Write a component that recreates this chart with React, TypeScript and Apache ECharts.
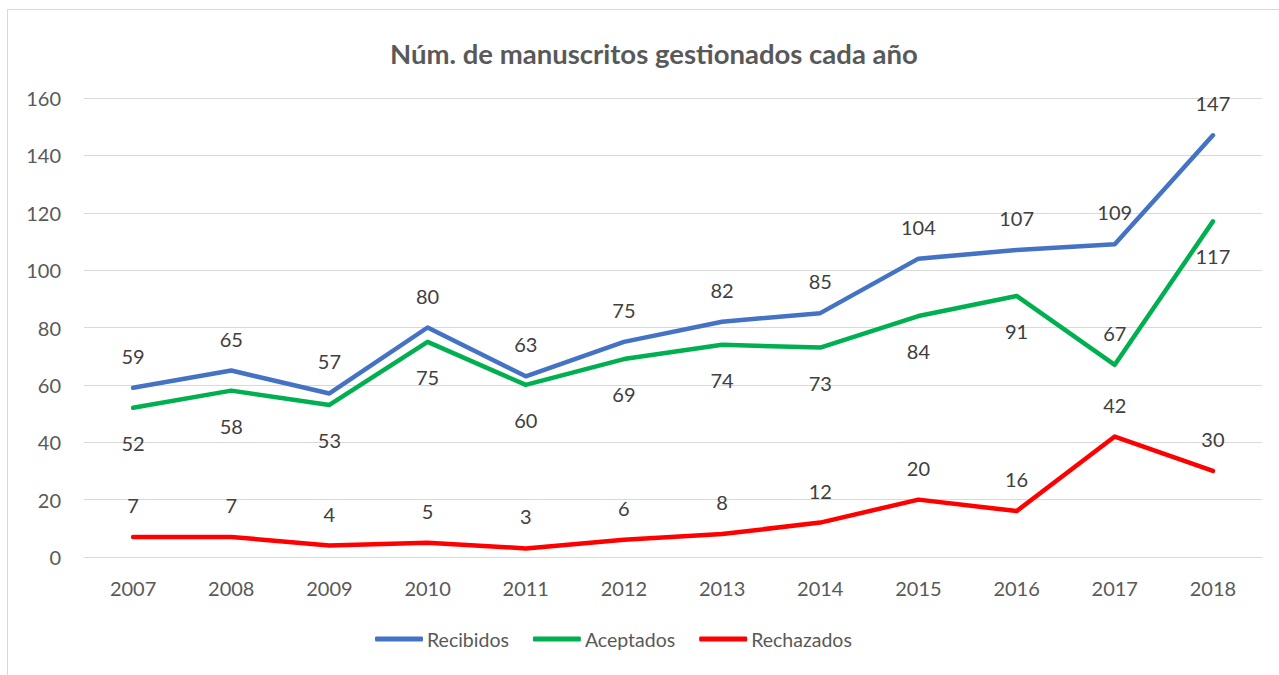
import React, { useEffect, useRef } from "react";
import * as echarts from "echarts";

const years = ["2007", "2008", "2009", "2010", "2011", "2012", "2013", "2014", "2015", "2016", "2017", "2018"];
const recibidos = [59, 65, 57, 80, 63, 75, 82, 85, 104, 107, 109, 147];
const aceptados = [52, 58, 53, 75, 60, 69, 74, 73, 84, 91, 67, 117];
const rechazados = [7, 7, 4, 5, 3, 6, 8, 12, 20, 16, 42, 30];
// vertical offset of each label from its point (negative: above)
const aceptadosLabelDy = [35, 35, 35, 35, 35, 35, 35, 35, 35, 35, -32, 35];
const titleText = "Núm. de manuscritos gestionados cada año";

const FONT = "Lato, 'Noto Sans', sans-serif";

export default function App() {
  const ref = useRef<HTMLDivElement>(null);
  useEffect(() => {
    if (!ref.current) return;
    const chart = echarts.init(ref.current, undefined, { renderer: "svg" });
    const mk = (name: string, data: number[], color: string, dy: number, dys?: number[]) => ({
      name,
      type: "line",
      data: data.map((v, i) =>
        dys ? { value: v, label: { offset: [0, dys[i]] } } : v
      ),
      symbol: "circle",
      symbolSize: 1,
      itemStyle: { color },
      lineStyle: { color, width: 4.5, cap: "round", join: "round" },
      label: {
        show: true,
        position: "inside",
        offset: [0, dy],
        color: "#404040",
        fontSize: 20,
        fontFamily: FONT,
      },
      emphasis: { disabled: true },
    });
    chart.setOption({
      animation: false,
      textStyle: { fontFamily: FONT },
      title: {
        text: titleText,
        left: 385,
        top: 34,
        textStyle: { fontSize: 27.5, fontWeight: "bold", color: "#595959", fontFamily: FONT },
      },
      graphic: [
        {
          type: "rect",
          shape: { x: 7.5, y: 9.5, width: 1300, height: 700 },
          style: { fill: "none", stroke: "#d9d9d9", lineWidth: 1 },
          silent: true,
        },
      ],
      legend: {
        bottom: 21,
        left: 370,
        icon: "roundRect",
        itemWidth: 48,
        itemHeight: 5,
        itemGap: 24,
        textStyle: { fontSize: 19.5, color: "#595959", fontFamily: FONT, padding: [0, 0, 0, -1] },
        data: ["Recibidos", "Aceptados", "Rechazados"],
      },
      grid: { left: 84, right: 17, top: 98, bottom: 118 },
      xAxis: {
        type: "category",
        data: years,
        boundaryGap: true,
        axisLine: { show: true, lineStyle: { color: "#d9d9d9", width: 1 } },
        axisTick: { show: false },
        axisLabel: { color: "#595959", fontSize: 20, margin: 21, fontFamily: FONT },
      },
      yAxis: {
        type: "value",
        min: 0,
        max: 160,
        interval: 20,
        axisLine: { show: false },
        axisTick: { show: false },
        splitLine: { lineStyle: { color: "#d9d9d9", width: 1 } },
        axisLabel: { color: "#595959", fontSize: 20, margin: 23, fontFamily: FONT },
      },
      series: [
        mk("Recibidos", recibidos, "#4472C4", -32),
        mk("Aceptados", aceptados, "#00B050", 35, aceptadosLabelDy),
        mk("Rechazados", rechazados, "#FF0000", -32),
      ],
    });
    return () => chart.dispose();
  }, []);
  return (
    <div
      ref={ref}
      style={{ position: "fixed", left: 0, top: 0, width: 1279, height: 675, background: "#fff" }}
    />
  );
}
